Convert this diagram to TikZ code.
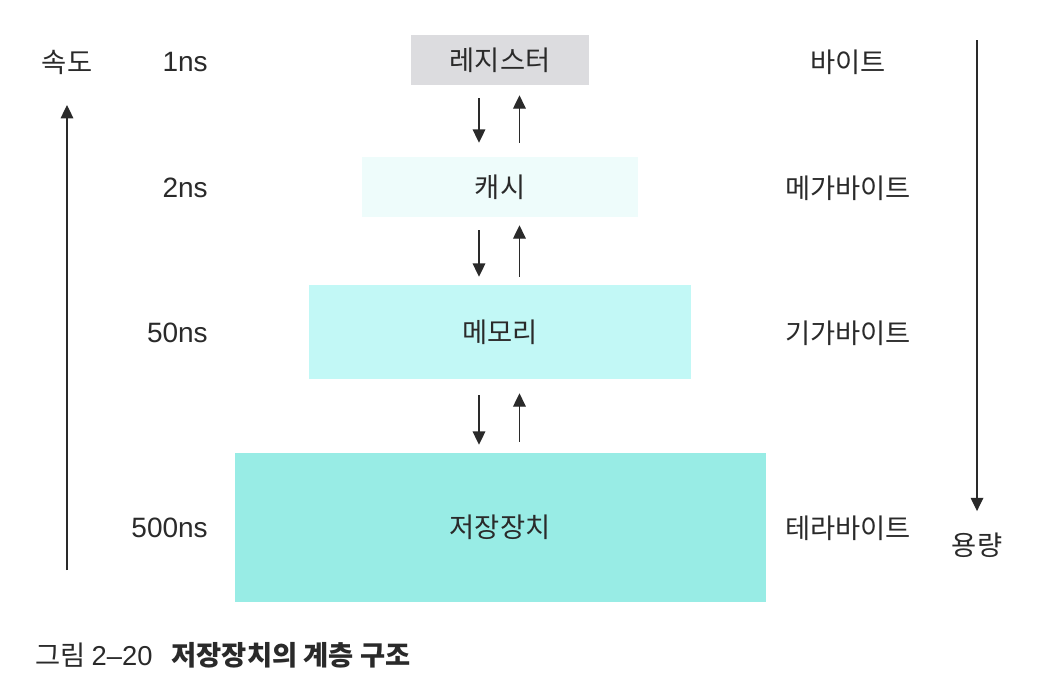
\documentclass[tikz,border=0pt]{standalone}
\usepackage{fontspec}
\setmainfont{Noto Sans CJK KR}
\newfontfamily\latinf{Liberation Sans}
\usetikzlibrary{arrows.meta}
\definecolor{txt}{HTML}{2A2A2A}
\definecolor{regc}{HTML}{DCDCDF}
\definecolor{cachec}{HTML}{EEFCFB}
\definecolor{memc}{HTML}{C2F8F6}
\definecolor{stoc}{HTML}{98ECE5}
\tikzset{
  lvl/.style={inner sep=0pt, text=txt, font=\fontsize{20.5}{22}\selectfont},
  lbl/.style={inner sep=0pt, text=txt, font=\fontsize{20.5}{22}\selectfont},
  nslbl/.style={inner sep=0pt, text=txt, font=\latinf\fontsize{21}{22}\selectfont},
  arr/.style={draw=txt, line width=0.9pt, -{Triangle[width=9.5pt,length=10pt]}},
}
\begin{document}
\begin{tikzpicture}[x=0.75pt,y=-0.75pt]
\useasboundingbox[fill=white] (0,0) rectangle (1038,690);
% boxes
\node[lvl, fill=regc, minimum width=133.5pt, minimum height=37.5pt] (reg) at (500,60) {레지스터};
\node[lvl, fill=cachec, minimum width=207pt, minimum height=45pt] (cache) at (500,187) {캐시};
\node[lvl, fill=memc, minimum width=286.5pt, minimum height=70.5pt] (mem) at (500,332) {메모리};
\node[lvl, fill=stoc, minimum width=398.25pt, minimum height=111.75pt] (sto) at (500,527.5) {저장장치};
% vertical arrows between levels
\draw[arr, shorten <=9.75pt, shorten >=10.5pt] ([xshift=-15.75pt]reg.south) -- ([xshift=-15.75pt]cache.north);
\draw[arr, shorten <=10.5pt, shorten >=7.5pt] ([xshift=14.6pt]cache.north) -- ([xshift=14.6pt]reg.south);
\draw[arr, shorten <=9.75pt, shorten >=6pt] ([xshift=-15.75pt]cache.south) -- ([xshift=-15.75pt]mem.north);
\draw[arr, shorten <=6pt, shorten >=6pt] ([xshift=14.6pt]mem.north) -- ([xshift=14.6pt]cache.south);
\draw[arr, shorten <=12pt, shorten >=6pt] ([xshift=-15.75pt]mem.south) -- ([xshift=-15.75pt]sto.north);
\draw[arr, shorten <=8.25pt, shorten >=10.5pt] ([xshift=14.6pt]sto.north) -- ([xshift=14.6pt]mem.south);
% left labels
\node[lbl] (speed) at (67,62) {속도};
\node[nslbl, anchor=east] (t1) at (208,62) {1ns};
\node[nslbl, anchor=east] (t2) at (208,188) {2ns};
\node[nslbl, anchor=east] (t3) at (208,333) {50ns};
\node[nslbl, anchor=east] (t4) at (208,528) {500ns};
\coordinate (sb) at (67,570);
\coordinate (st) at (67,105);
\draw[arr] (sb) -- (st);
% right labels
\node[lbl] (c1) at (848,62) {바이트};
\node[lbl] (c2) at (848,188) {메가바이트};
\node[lbl] (c3) at (848,333) {기가바이트};
\node[lbl] (c4) at (848,528) {테라바이트};
\node[lbl] (cap) at (977,545) {용량};
\coordinate (ct) at (977,40);
\draw[arr, shorten >=16pt] (ct) -- (cap.north);
% caption
\node[lbl, anchor=west] (fig) at (35,655) {그림 {\latinf 2–20}\hspace{0.7em}\textbf{저장장치의 계층 구조}};
\end{tikzpicture}
\end{document}
